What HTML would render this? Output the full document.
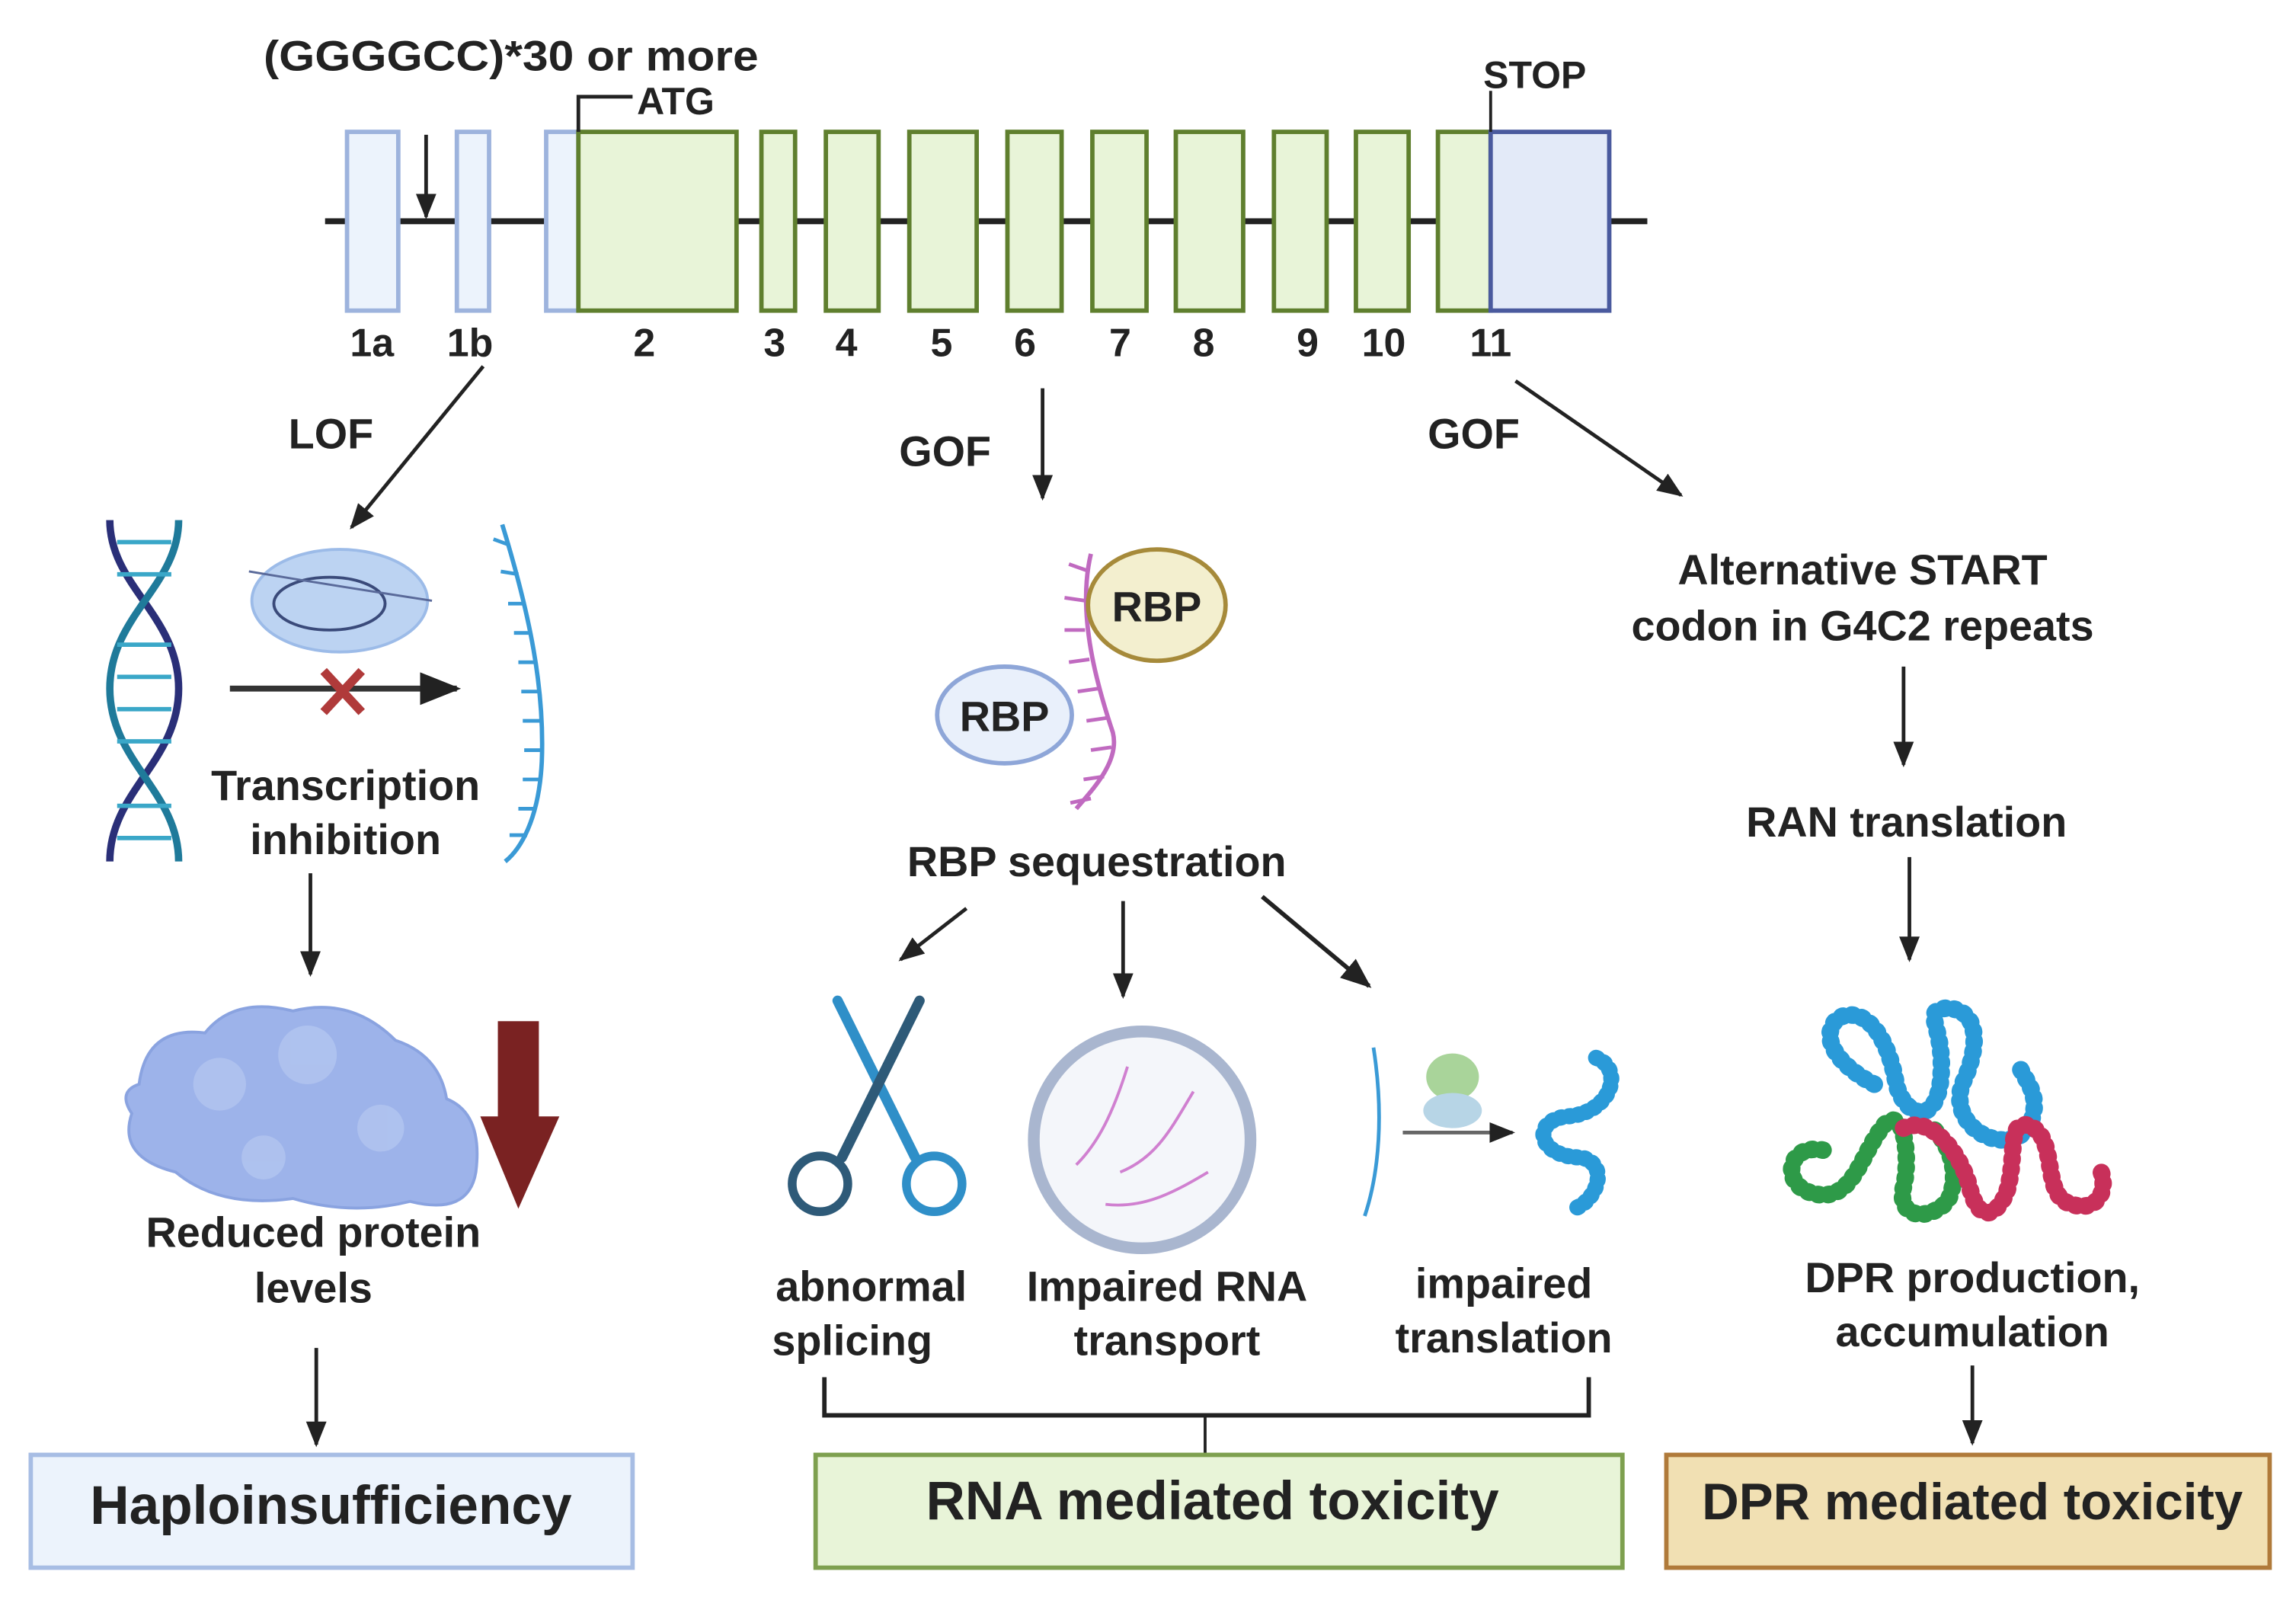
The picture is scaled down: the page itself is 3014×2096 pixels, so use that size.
<!DOCTYPE html>
<html><head><meta charset="utf-8"><style>
html,body{margin:0;padding:0;background:#fff;}
svg{display:block;}
text{font-family:"Liberation Sans",sans-serif;font-weight:bold;fill:#222;}
</style></head><body>
<svg width="3014" height="2096" viewBox="0 0 1568 1090" preserveAspectRatio="none" xmlns="http://www.w3.org/2000/svg">
<defs>
<marker id="ah" viewBox="0 0 10 10" refX="9" refY="5" markerWidth="7" markerHeight="7" orient="auto-start-reverse"><path d="M0,1 L10,5 L0,9 z" fill="#222"/></marker>
<pattern id="tickB" width="8" height="12" patternUnits="userSpaceOnUse"><rect x="0" y="5" width="8" height="2" fill="#3a9ad6"/></pattern>
</defs>
<rect width="1568" height="1090" fill="#fff"/>

<!-- gene -->
<line x1="222" y1="151" x2="1125" y2="151" stroke="#222" stroke-width="4"/>
<g stroke="#9db3dd" stroke-width="3" fill="#ecf3fc">
<rect x="237" y="90" width="35" height="122"/>
<rect x="312" y="90" width="22" height="122"/>
<rect x="373" y="90" width="22" height="122"/>
</g>
<g stroke="#5f7f2e" stroke-width="3" fill="#e8f4d8">
<rect x="395" y="90" width="108" height="122"/>
<rect x="520" y="90" width="23" height="122"/>
<rect x="564" y="90" width="36" height="122"/>
<rect x="621" y="90" width="46" height="122"/>
<rect x="688" y="90" width="37" height="122"/>
<rect x="746" y="90" width="37" height="122"/>
<rect x="803" y="90" width="46" height="122"/>
<rect x="870" y="90" width="36" height="122"/>
<rect x="926" y="90" width="36" height="122"/>
<rect x="982" y="90" width="36" height="122"/>
</g>
<rect x="1018" y="90" width="81" height="122" fill="#e3eaf8" stroke="#4a5a9e" stroke-width="3"/>
<g font-size="27" text-anchor="middle">
<text x="254" y="243">1a</text><text x="321" y="243">1b</text><text x="440" y="243">2</text>
<text x="529" y="243">3</text><text x="578" y="243">4</text><text x="643" y="243">5</text>
<text x="700" y="243">6</text><text x="765" y="243">7</text><text x="822" y="243">8</text>
<text x="893" y="243">9</text><text x="945" y="243">10</text><text x="1018" y="243">11</text>
</g>
<text x="180" y="48" font-size="29" textLength="338" lengthAdjust="spacingAndGlyphs">(GGGGCC)*30 or more</text>
<line x1="291" y1="92" x2="291" y2="148" stroke="#222" stroke-width="2.5" marker-end="url(#ah)"/>
<polyline points="395,90 395,66 432,66" fill="none" stroke="#222" stroke-width="2.5"/>
<text x="435" y="78" font-size="26">ATG</text>
<line x1="1018" y1="62" x2="1018" y2="90" stroke="#222" stroke-width="2"/>
<text x="1013" y="60" font-size="26">STOP</text>

<!-- branch arrows -->
<text x="197" y="306" font-size="29">LOF</text>
<line x1="330" y1="250" x2="240" y2="360" stroke="#222" stroke-width="2.5" marker-end="url(#ah)"/>
<text x="614" y="318" font-size="29">GOF</text>
<line x1="712" y1="265" x2="712" y2="340" stroke="#222" stroke-width="2.5" marker-end="url(#ah)"/>
<text x="975" y="306" font-size="29">GOF</text>
<line x1="1035" y1="260" x2="1148" y2="338" stroke="#222" stroke-width="2.5" marker-end="url(#ah)"/>

<!-- left column -->
<g fill="none" stroke-width="5">
<path d="M75,355 C75,400 122,420 122,470 C122,520 75,540 75,588" stroke="#2a2f78"/>
<path d="M122,355 C122,400 75,420 75,470 C75,520 122,540 122,588" stroke="#1f7a9a"/>
</g>
<g stroke="#3aa7c8" stroke-width="3">
<line x1="80" y1="370" x2="117" y2="370"/><line x1="80" y1="392" x2="117" y2="392"/><line x1="80" y1="440" x2="117" y2="440"/>
<line x1="80" y1="462" x2="117" y2="462"/><line x1="80" y1="484" x2="117" y2="484"/><line x1="80" y1="506" x2="117" y2="506"/>
<line x1="80" y1="550" x2="117" y2="550"/><line x1="80" y1="572" x2="117" y2="572"/>
</g>
<ellipse cx="232" cy="410" rx="60" ry="35" fill="#bcd3f2" stroke="#9cbbe8" stroke-width="2"/>
<ellipse cx="225" cy="412" rx="38" ry="18" fill="none" stroke="#3a4a7a" stroke-width="2"/>
<path d="M170,390 Q230,400 295,410" fill="none" stroke="#5a6a9a" stroke-width="1.5"/>
<line x1="157" y1="470" x2="312" y2="470" stroke="#333" stroke-width="4" marker-end="url(#ah)"/>
<g stroke="#b03a3a" stroke-width="6"><line x1="221" y1="458" x2="247" y2="486"/><line x1="247" y1="458" x2="221" y2="486"/></g>
<path d="M343,358 C362,420 372,470 370,520 C368,560 355,580 345,588" fill="none" stroke="#3a9ad6" stroke-width="3"/>
<g stroke="#3a9ad6" stroke-width="2.5">
<line x1="348" y1="372" x2="337" y2="368"/><line x1="354" y1="392" x2="342" y2="390"/><line x1="359" y1="412" x2="347" y2="412"/>
<line x1="363" y1="432" x2="351" y2="432"/><line x1="366" y1="452" x2="354" y2="452"/><line x1="368" y1="472" x2="356" y2="472"/>
<line x1="369" y1="492" x2="357" y2="492"/><line x1="370" y1="512" x2="358" y2="512"/><line x1="369" y1="532" x2="357" y2="532"/>
<line x1="366" y1="552" x2="354" y2="552"/><line x1="360" y1="570" x2="348" y2="570"/>
</g>
<g font-size="29" text-anchor="middle">
<text x="236" y="546">Transcription</text><text x="236" y="583">inhibition</text>
</g>
<line x1="212" y1="596" x2="212" y2="665" stroke="#222" stroke-width="2.5" marker-end="url(#ah)"/>
<path d="M95,740 Q100,700 140,705 Q160,680 200,690 Q240,680 270,710 Q300,720 305,750 Q330,760 325,800 Q320,830 280,820 Q240,830 200,818 Q150,825 120,800 Q80,790 90,760 Q80,745 95,740 Z" fill="#9db3ea" stroke="#8aa3e0" stroke-width="2"/>
<g fill="#b3c5f0" opacity="0.8"><circle cx="150" cy="740" r="18"/><circle cx="210" cy="720" r="20"/><circle cx="260" cy="770" r="16"/><circle cx="180" cy="790" r="15"/></g>
<polygon points="340,697 368,697 368,762 382,762 354,825 328,762 340,762" fill="#7a2222"/>
<g font-size="29" text-anchor="middle">
<text x="214" y="851">Reduced protein</text><text x="214" y="889">levels</text>
</g>
<line x1="216" y1="920" x2="216" y2="986" stroke="#222" stroke-width="2.5" marker-end="url(#ah)"/>
<rect x="21" y="993" width="411" height="77" fill="#ecf3fc" stroke="#a7bde4" stroke-width="3"/>
<text x="226" y="1040" font-size="37" text-anchor="middle">Haploinsufficiency</text>

<!-- middle column -->
<path d="M745,378 C735,420 750,470 760,500 C765,520 745,540 735,552" fill="none" stroke="#c06ac0" stroke-width="3"/>
<g stroke="#c06ac0" stroke-width="2.5">
<line x1="744" y1="390" x2="730" y2="385"/><line x1="741" y1="410" x2="727" y2="408"/><line x1="741" y1="430" x2="727" y2="430"/>
<line x1="744" y1="450" x2="730" y2="452"/><line x1="750" y1="470" x2="736" y2="472"/><line x1="756" y1="490" x2="742" y2="492"/>
<line x1="759" y1="510" x2="745" y2="512"/><line x1="754" y1="530" x2="740" y2="532"/><line x1="745" y1="545" x2="731" y2="548"/>
</g>
<ellipse cx="790" cy="413" rx="47" ry="38" fill="#f3efcf" stroke="#a68a3a" stroke-width="3"/>
<text x="790" y="424" font-size="29" text-anchor="middle">RBP</text>
<ellipse cx="686" cy="488" rx="46" ry="33" fill="#e9f0fb" stroke="#8ea6d8" stroke-width="3"/>
<text x="686" y="499" font-size="29" text-anchor="middle">RBP</text>
<text x="749" y="598" font-size="29" text-anchor="middle">RBP sequestration</text>
<line x1="660" y1="620" x2="615" y2="655" stroke="#222" stroke-width="2.5" marker-end="url(#ah)"/>
<line x1="767" y1="615" x2="767" y2="680" stroke="#222" stroke-width="2.5" marker-end="url(#ah)"/>
<line x1="862" y1="612" x2="935" y2="673" stroke="#222" stroke-width="3" marker-end="url(#ah)"/>
<!-- scissors -->
<line x1="572" y1="683" x2="625" y2="790" stroke="#2f8fc8" stroke-width="7" stroke-linecap="round"/>
<line x1="628" y1="683" x2="575" y2="790" stroke="#2e5a78" stroke-width="7" stroke-linecap="round"/>
<circle cx="560" cy="808" r="19" fill="none" stroke="#2e5a78" stroke-width="6"/>
<circle cx="638" cy="808" r="19" fill="none" stroke="#2f8fc8" stroke-width="6"/>
<!-- nucleus -->
<circle cx="780" cy="778" r="74" fill="#f4f6fa" stroke="#a9b6cf" stroke-width="8"/>
<g fill="none" stroke="#d080d0" stroke-width="2">
<path d="M770,728 C760,760 750,780 735,795"/><path d="M815,745 C800,770 790,790 765,800"/><path d="M825,800 C800,815 780,825 755,822"/>
</g>
<!-- translation -->
<path d="M938,715 C945,760 942,800 932,830" fill="none" stroke="#3a9ad6" stroke-width="2.5"/>
<ellipse cx="992" cy="735" rx="18" ry="16" fill="#a9d49a"/>
<ellipse cx="992" cy="758" rx="20" ry="12" fill="#b7d5e6"/>
<line x1="958" y1="773" x2="1033" y2="773" stroke="#666" stroke-width="2.5" marker-end="url(#ah)"/>
<path d="M1090,722 C1110,730 1100,760 1070,762 C1045,765 1050,790 1080,790 C1100,795 1090,820 1075,825" fill="none" stroke="#2a9ad8" stroke-width="11" stroke-dasharray="1 5" stroke-linecap="round"/>
<g font-size="29" text-anchor="middle">
<text x="595" y="888">abnormal</text><text x="582" y="925">splicing</text>
<text x="797" y="888">Impaired RNA</text><text x="797" y="925">transport</text>
<text x="1027" y="886">impaired</text><text x="1027" y="923">translation</text>
</g>
<polyline points="563,940 563,966 1085,966 1085,940" fill="none" stroke="#222" stroke-width="3"/>
<line x1="823" y1="966" x2="823" y2="993" stroke="#222" stroke-width="2"/>
<rect x="557" y="993" width="551" height="77" fill="#e8f4d8" stroke="#7ea04f" stroke-width="3"/>
<text x="828" y="1037" font-size="37" text-anchor="middle">RNA mediated toxicity</text>

<!-- right column -->
<g font-size="29" text-anchor="middle">
<text x="1272" y="399">Alternative START</text><text x="1272" y="437">codon in G4C2 repeats</text>
<text x="1302" y="571">RAN translation</text>
</g>
<line x1="1300" y1="455" x2="1300" y2="522" stroke="#222" stroke-width="2.5" marker-end="url(#ah)"/>
<line x1="1304" y1="585" x2="1304" y2="655" stroke="#222" stroke-width="2.5" marker-end="url(#ah)"/>
<g fill="none" stroke-width="12" stroke-dasharray="1 6" stroke-linecap="round">
<path d="M1280,740 C1260,730 1240,710 1255,695 C1275,685 1290,710 1295,740 C1300,760 1320,770 1325,740 C1330,700 1310,690 1330,688 C1355,690 1350,720 1340,740 C1330,770 1370,790 1385,770 C1395,750 1385,740 1380,730" stroke="#2a9ad8"/>
<path d="M1245,785 C1220,780 1215,810 1240,815 C1265,820 1270,790 1285,770 C1300,750 1305,790 1300,810 C1295,830 1315,835 1330,820 C1340,800 1330,780 1320,770" stroke="#2e9a48"/>
<path d="M1300,770 C1320,760 1340,790 1345,810 C1350,830 1360,835 1370,815 C1378,790 1370,765 1385,768 C1405,775 1395,810 1410,820 C1430,830 1440,815 1435,800" stroke="#c8305a"/>
</g>
<g font-size="29" text-anchor="middle">
<text x="1347" y="882">DPR production,</text><text x="1347" y="919">accumulation</text>
</g>
<line x1="1347" y1="932" x2="1347" y2="985" stroke="#222" stroke-width="2.5" marker-end="url(#ah)"/>
<rect x="1138" y="993" width="412" height="77" fill="#f1e0b3" stroke="#b07a3a" stroke-width="3"/>
<text x="1347" y="1037" font-size="35" text-anchor="middle">DPR mediated toxicity</text>
</svg>
</body></html>
